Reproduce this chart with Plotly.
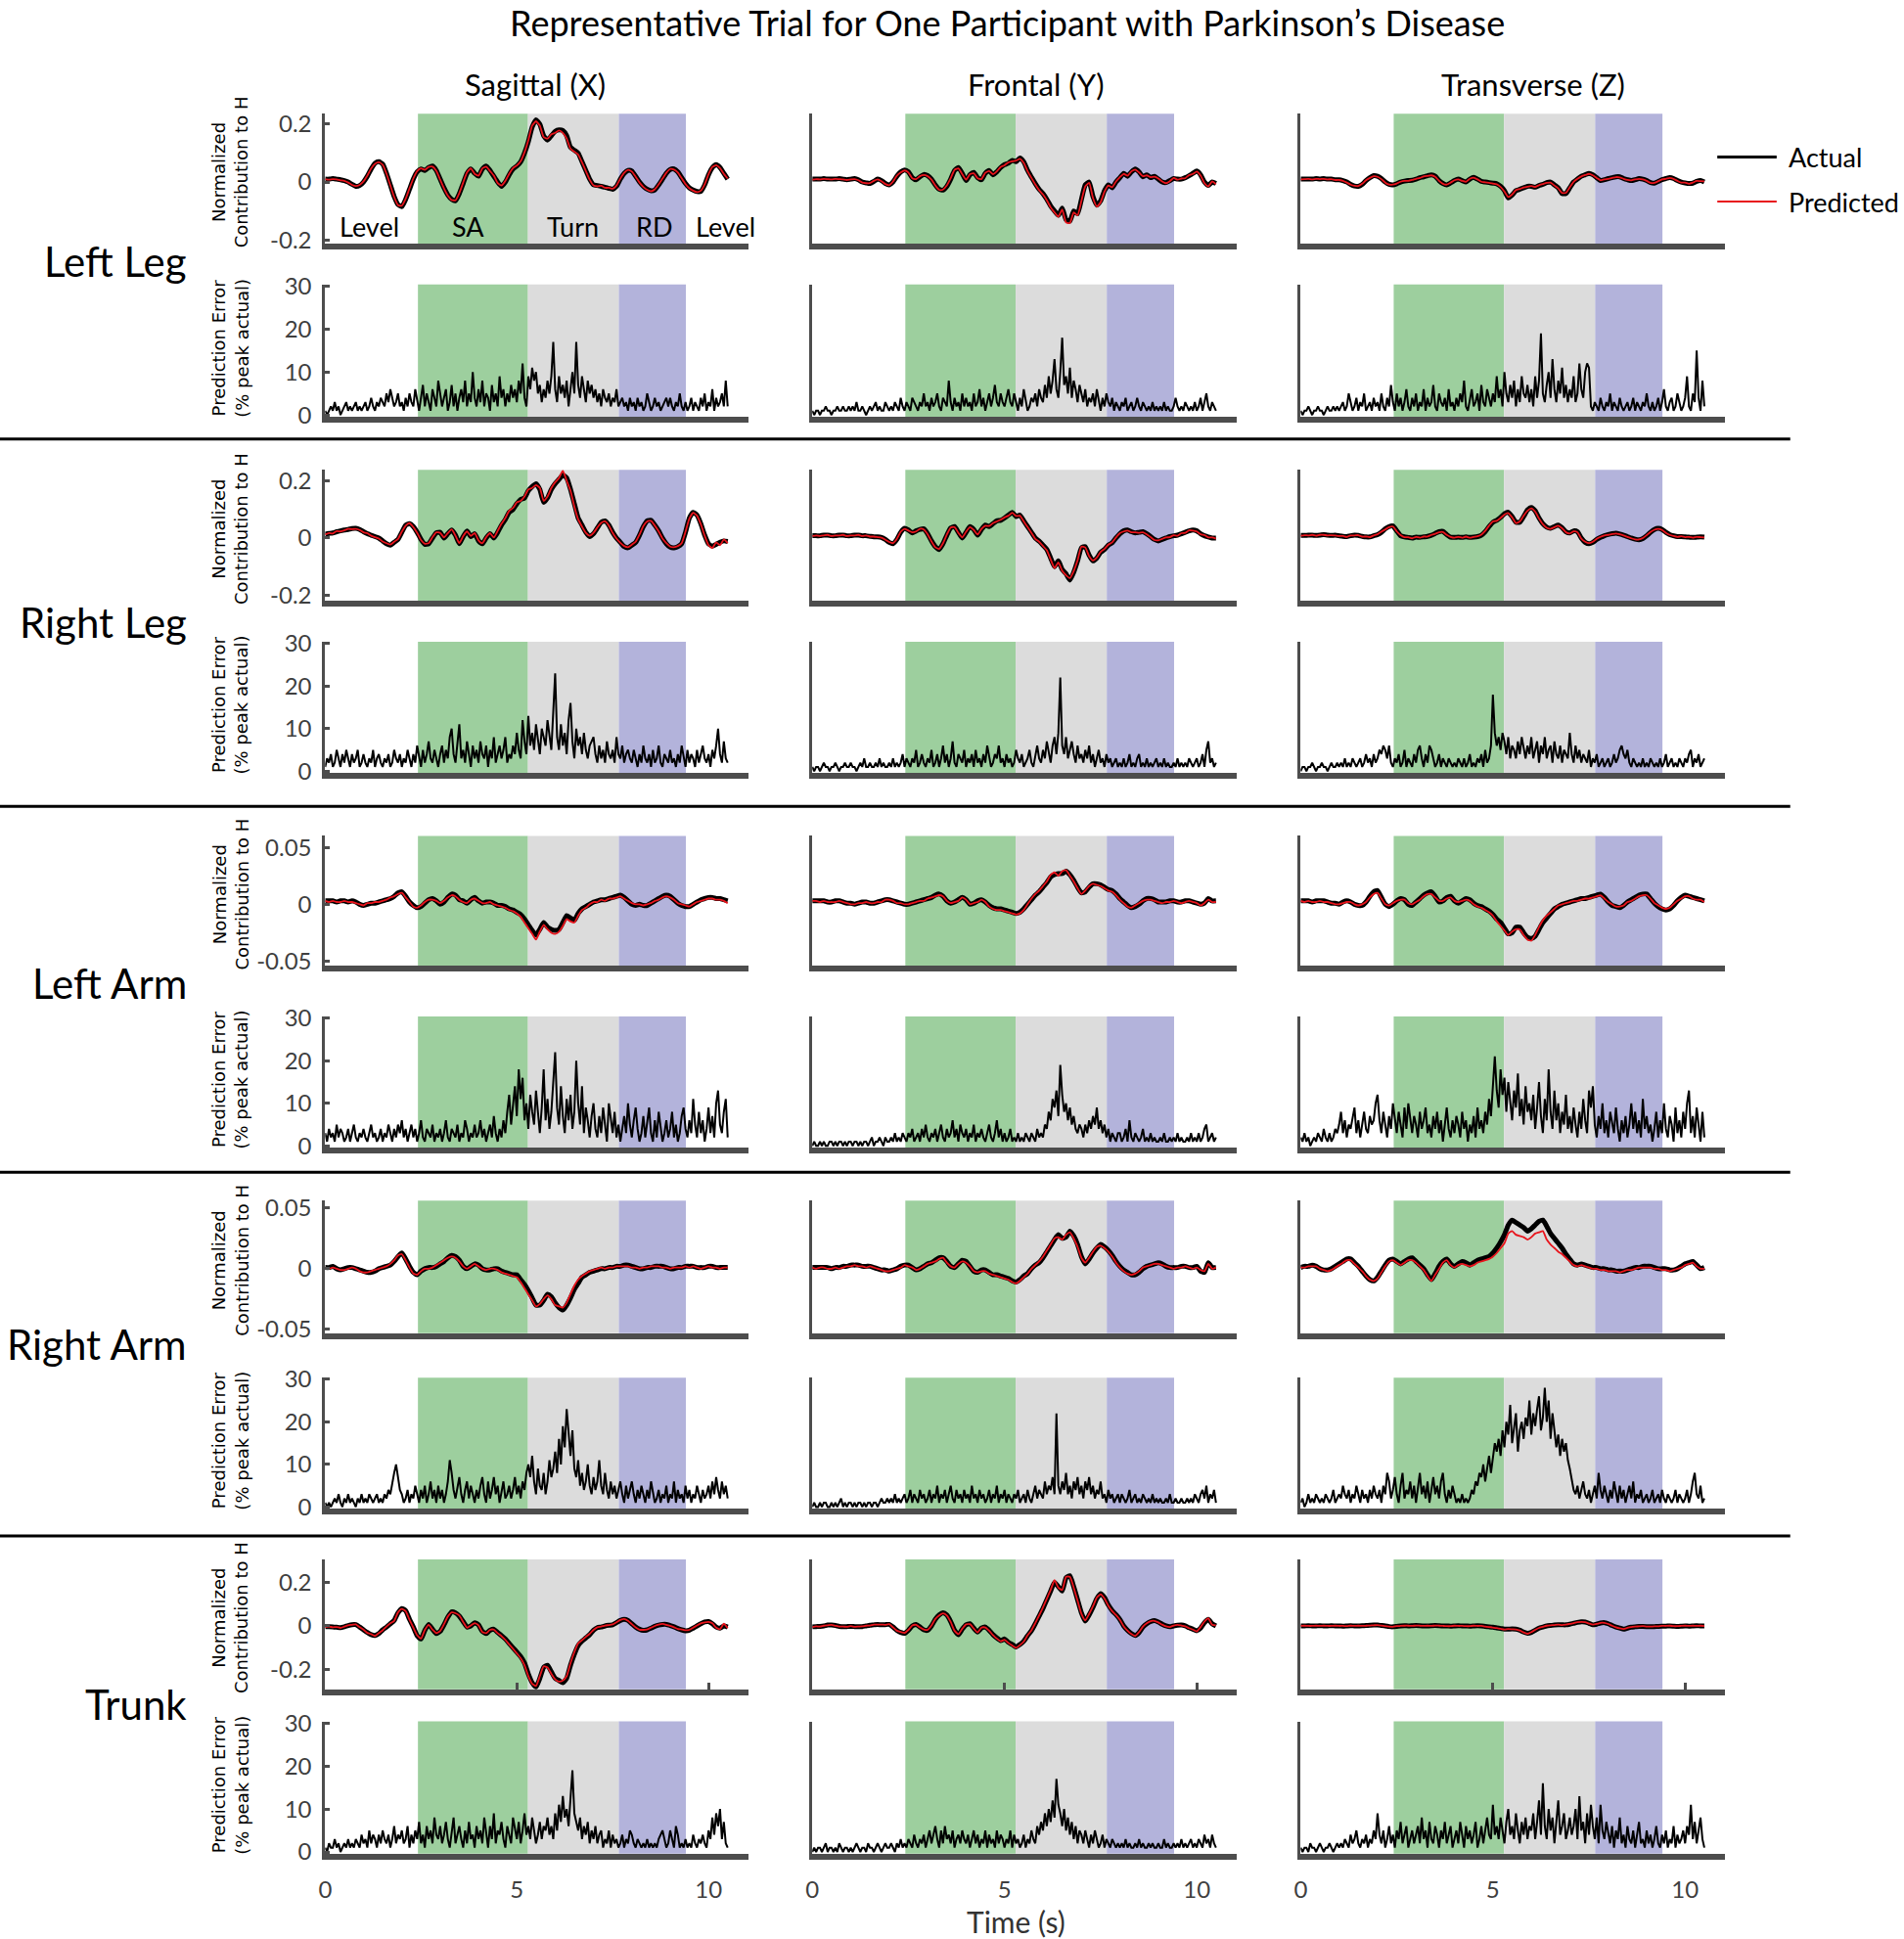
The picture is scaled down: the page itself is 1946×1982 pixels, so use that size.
import plotly.graph_objects as go

# ------------------------------------------------------------------ data
t_curve = [round(i * 0.1, 1) for i in range(106)]      # sample times (s) of H-contribution curves
t_err = [round(i * 0.05, 2) for i in range(211)]       # sample times (s) of prediction-error curves

rows = ["Left Leg", "Right Leg", "Left Arm", "Right Arm", "Trunk"]
planes = ["Sagittal (X)", "Frontal (Y)", "Transverse (Z)"]
phase_names = ["Level", "SA", "Turn", "RD", "Level"]
phase_label_t = [1.16, 3.74, 6.45, 8.58, 10.45]
phase_start = [2.42, 5.29, 7.66]
phase_end = [5.29, 7.66, 9.41]
phase_colors = ["#9dcf9e", "#dcdcdc", "#b3b3db"]
x_ticks = [0, 5, 10]
err_ticks = [0, 10, 20, 30]

# ---- Left Leg
act_ll_x = [0.01,0.01,0.012,0.01,0.008,0.005,0.0,-0.008,-0.015,-0.012,
 0.0,0.02,0.045,0.065,0.07,0.062,0.03,-0.01,-0.05,-0.078,
 -0.085,-0.06,-0.025,0.01,0.035,0.045,0.04,0.05,0.055,0.04,
 0.01,-0.02,-0.045,-0.06,-0.065,-0.04,-0.005,0.03,0.045,0.03,
 0.02,0.045,0.055,0.04,0.02,0.0,-0.015,0.0,0.025,0.045,
 0.055,0.07,0.1,0.14,0.19,0.215,0.2,0.16,0.145,0.16,
 0.175,0.18,0.178,0.16,0.12,0.11,0.1,0.07,0.04,0.01,
 -0.01,-0.012,-0.015,-0.018,-0.022,-0.025,-0.015,0.01,0.03,0.04,
 0.038,0.02,0.0,-0.015,-0.025,-0.03,-0.027,-0.01,0.01,0.03,
 0.043,0.045,0.035,0.015,-0.005,-0.02,-0.028,-0.033,-0.032,-0.01,
 0.025,0.05,0.06,0.05,0.03,0.01]
pred_ll_x = [0.01,0.008,0.01,0.009,0.006,0.004,-0.002,-0.01,-0.014,-0.01,
 0.002,0.022,0.047,0.063,0.068,0.06,0.028,-0.012,-0.052,-0.08,
 -0.082,-0.058,-0.022,0.012,0.038,0.047,0.042,0.052,0.053,0.038,
 0.008,-0.022,-0.047,-0.062,-0.063,-0.038,-0.002,0.033,0.047,0.028,
 0.022,0.047,0.053,0.038,0.022,-0.004,-0.012,0.004,0.028,0.048,
 0.057,0.072,0.103,0.145,0.195,0.21,0.195,0.155,0.15,0.165,
 0.17,0.178,0.17,0.15,0.115,0.105,0.095,0.068,0.038,0.008,
 -0.012,-0.015,-0.013,-0.02,-0.02,-0.023,-0.012,0.012,0.032,0.042,
 0.036,0.018,-0.002,-0.017,-0.027,-0.032,-0.025,-0.008,0.012,0.032,
 0.045,0.043,0.033,0.013,-0.007,-0.022,-0.03,-0.035,-0.03,-0.008,
 0.027,0.052,0.058,0.048,0.028,0.012]
act_ll_y = [0.01,0.01,0.01,0.012,0.01,0.01,0.01,0.012,0.01,0.008,
 0.01,0.012,0.008,0.0,-0.003,-0.005,0.002,0.01,0.005,-0.005,
 -0.01,0.0,0.02,0.035,0.042,0.035,0.015,0.008,0.018,0.026,
 0.022,0.01,-0.01,-0.025,-0.028,-0.015,0.01,0.04,0.05,0.03,
 0.005,0.025,0.033,0.015,0.008,0.03,0.04,0.025,0.035,0.05,
 0.06,0.065,0.075,0.07,0.083,0.07,0.04,0.017,-0.005,-0.025,
 -0.04,-0.06,-0.083,-0.1,-0.115,-0.09,-0.13,-0.135,-0.1,-0.11,
 -0.06,-0.01,0.0,-0.05,-0.08,-0.065,-0.03,-0.01,-0.02,0.0,
 0.015,0.03,0.02,0.035,0.045,0.035,0.018,0.025,0.015,0.02,
 0.01,0.0,-0.002,0.005,0.012,0.01,0.01,0.015,0.022,0.03,
 0.038,0.025,0.0,-0.012,0.0,-0.005]
pred_ll_y = [0.008,0.01,0.009,0.011,0.01,0.009,0.011,0.01,0.009,0.007,
 0.009,0.01,0.006,-0.002,-0.004,-0.004,0.004,0.009,0.003,-0.007,
 -0.011,0.002,0.022,0.033,0.04,0.033,0.013,0.01,0.02,0.024,
 0.02,0.008,-0.012,-0.027,-0.026,-0.012,0.013,0.042,0.047,0.027,
 0.008,0.027,0.03,0.013,0.01,0.032,0.038,0.027,0.037,0.052,
 0.058,0.068,0.072,0.074,0.08,0.066,0.037,0.014,-0.008,-0.028,
 -0.043,-0.063,-0.088,-0.105,-0.12,-0.095,-0.14,-0.142,-0.105,-0.115,
 -0.065,-0.015,-0.003,-0.055,-0.085,-0.07,-0.033,-0.012,-0.018,0.002,
 0.017,0.028,0.022,0.037,0.043,0.033,0.02,0.023,0.017,0.018,
 0.012,0.002,-0.004,0.003,0.014,0.008,0.012,0.013,0.024,0.028,
 0.036,0.022,-0.004,-0.015,0.002,-0.008]
act_ll_z = [0.01,0.01,0.01,0.01,0.012,0.01,0.012,0.01,0.01,0.008,
 0.008,0.005,0.0,-0.008,-0.014,-0.015,-0.008,0.005,0.015,0.022,
 0.02,0.012,0.0,-0.008,-0.01,-0.006,0.0,0.003,0.005,0.006,
 0.01,0.015,0.018,0.022,0.025,0.02,0.005,-0.005,-0.01,-0.003,
 0.005,0.01,0.005,0.0,0.01,0.016,0.01,0.002,0.0,-0.002,
 -0.004,-0.006,-0.015,-0.03,-0.055,-0.045,-0.03,-0.025,-0.02,-0.015,
 -0.015,-0.018,-0.012,-0.008,-0.002,0.0,-0.01,-0.02,-0.04,-0.04,
 -0.02,0.0,0.01,0.02,0.025,0.03,0.025,0.015,0.005,0.008,
 0.012,0.015,0.018,0.018,0.012,0.008,0.005,0.008,0.012,0.01,
 0.005,-0.002,-0.004,0.002,0.008,0.012,0.015,0.012,0.005,0.0,
 -0.003,-0.005,-0.004,0.002,0.005,0.0]
pred_ll_z = [0.009,0.01,0.011,0.009,0.011,0.01,0.011,0.009,0.01,0.007,
 0.007,0.004,-0.002,-0.009,-0.013,-0.014,-0.006,0.006,0.014,0.02,
 0.018,0.01,-0.002,-0.009,-0.009,-0.005,0.001,0.004,0.004,0.007,
 0.011,0.014,0.019,0.021,0.023,0.018,0.004,-0.006,-0.009,-0.002,
 0.006,0.009,0.004,0.001,0.011,0.015,0.009,0.001,-0.001,-0.003,
 -0.005,-0.008,-0.017,-0.033,-0.052,-0.043,-0.028,-0.024,-0.019,-0.016,
 -0.014,-0.017,-0.011,-0.007,-0.003,-0.002,-0.012,-0.022,-0.038,-0.037,
 -0.018,0.001,0.011,0.019,0.024,0.028,0.023,0.014,0.006,0.009,
 0.011,0.014,0.017,0.016,0.011,0.007,0.006,0.009,0.011,0.009,
 0.004,-0.003,-0.003,0.003,0.009,0.011,0.014,0.011,0.004,-0.002,
 -0.002,-0.006,-0.002,0.004,0.003,0.002]

# ---- Right Leg
act_rl_x = [0.014,0.016,0.018,0.022,0.025,0.028,0.03,0.033,0.034,0.03,
 0.022,0.015,0.01,0.005,0.0,-0.01,-0.02,-0.025,-0.015,-0.005,
 0.02,0.045,0.05,0.04,0.02,-0.005,-0.022,-0.02,0.0,0.018,
 0.02,0.0,0.015,0.028,0.01,-0.02,0.005,0.025,0.005,0.015,
 -0.01,-0.02,0.0,0.015,0.0,0.02,0.045,0.065,0.09,0.1,
 0.12,0.135,0.14,0.165,0.18,0.19,0.17,0.125,0.14,0.17,
 0.19,0.205,0.22,0.21,0.17,0.12,0.07,0.045,0.02,0.005,
 0.015,0.035,0.055,0.06,0.045,0.02,0.0,-0.015,-0.03,-0.034,
 -0.025,-0.015,0.01,0.04,0.06,0.062,0.045,0.025,0.0,-0.02,
 -0.032,-0.034,-0.03,-0.02,0.02,0.07,0.09,0.08,0.05,0.01,
 -0.02,-0.028,-0.022,-0.015,-0.01,-0.012]
pred_rl_x = [0.012,0.017,0.016,0.024,0.023,0.027,0.032,0.031,0.032,0.028,
 0.02,0.017,0.008,0.003,-0.002,-0.012,-0.018,-0.023,-0.013,-0.003,
 0.022,0.043,0.052,0.038,0.018,-0.007,-0.02,-0.018,0.003,0.02,
 0.018,0.002,0.017,0.03,0.008,-0.018,0.007,0.023,0.007,0.017,
 -0.008,-0.018,0.003,0.017,0.002,0.025,0.05,0.07,0.095,0.105,
 0.125,0.13,0.145,0.17,0.175,0.185,0.175,0.13,0.145,0.175,
 0.195,0.21,0.235,0.2,0.165,0.11,0.065,0.04,0.018,0.008,
 0.018,0.037,0.053,0.058,0.043,0.018,-0.002,-0.017,-0.028,-0.032,
 -0.023,-0.013,0.012,0.042,0.058,0.06,0.043,0.023,-0.002,-0.018,
 -0.03,-0.032,-0.028,-0.018,0.022,0.068,0.088,0.078,0.048,0.008,
 -0.025,-0.035,-0.015,-0.025,-0.005,-0.018]
act_rl_y = [0.008,0.008,0.008,0.01,0.01,0.008,0.008,0.01,0.01,0.008,
 0.008,0.01,0.01,0.008,0.008,0.006,0.004,0.004,0.002,-0.005,
 -0.015,-0.02,-0.005,0.02,0.034,0.028,0.018,0.025,0.03,0.032,
 0.015,-0.01,-0.03,-0.04,-0.02,0.01,0.035,0.04,0.02,0.0,
 0.02,0.04,0.03,0.01,0.03,0.045,0.04,0.05,0.06,0.062,
 0.07,0.08,0.09,0.075,0.08,0.06,0.04,0.02,0.0,-0.011,
 -0.025,-0.04,-0.07,-0.1,-0.08,-0.11,-0.125,-0.147,-0.12,-0.08,
 -0.034,-0.03,-0.06,-0.08,-0.07,-0.05,-0.04,-0.025,-0.017,0.0,
 0.015,0.025,0.028,0.022,0.018,0.02,0.022,0.015,0.005,-0.005,
 -0.01,-0.005,0.0,0.005,0.008,0.01,0.015,0.02,0.025,0.028,
 0.025,0.015,0.008,0.004,0.0,0.0]
pred_rl_y = [0.007,0.009,0.007,0.009,0.011,0.007,0.009,0.009,0.011,0.007,
 0.009,0.009,0.011,0.007,0.009,0.005,0.005,0.003,0.001,-0.006,
 -0.014,-0.018,-0.003,0.022,0.032,0.026,0.02,0.023,0.032,0.03,
 0.013,-0.012,-0.032,-0.038,-0.018,0.012,0.037,0.038,0.018,0.002,
 0.022,0.038,0.028,0.012,0.032,0.043,0.042,0.052,0.058,0.064,
 0.072,0.078,0.088,0.077,0.078,0.058,0.038,0.018,-0.003,-0.013,
 -0.028,-0.043,-0.075,-0.105,-0.085,-0.115,-0.13,-0.14,-0.115,-0.078,
 -0.03,-0.033,-0.063,-0.078,-0.068,-0.048,-0.038,-0.023,-0.015,0.002,
 0.017,0.023,0.026,0.02,0.02,0.018,0.02,0.013,0.003,-0.007,
 -0.008,-0.003,0.002,0.003,0.01,0.008,0.017,0.018,0.027,0.026,
 0.023,0.013,0.01,0.002,0.002,-0.002]
act_rl_z = [0.009,0.009,0.01,0.01,0.009,0.01,0.012,0.01,0.009,0.01,
 0.008,0.006,0.005,0.008,0.01,0.009,0.006,0.004,0.004,0.008,
 0.012,0.02,0.032,0.04,0.042,0.025,0.008,0.004,0.002,0.0,
 0.003,0.002,0.004,0.006,0.01,0.016,0.022,0.023,0.012,0.003,
 0.002,0.003,0.002,0.004,0.002,0.003,0.005,0.01,0.022,0.04,
 0.055,0.062,0.072,0.085,0.09,0.075,0.055,0.055,0.075,0.098,
 0.107,0.095,0.07,0.05,0.038,0.034,0.04,0.045,0.036,0.022,
 0.018,0.025,0.022,0.0,-0.015,-0.02,-0.015,-0.005,0.002,0.008,
 0.012,0.015,0.017,0.014,0.01,0.005,0.0,-0.004,-0.006,-0.002,
 0.008,0.02,0.03,0.034,0.03,0.02,0.012,0.008,0.005,0.005,
 0.004,0.003,0.002,0.003,0.004,0.003]
pred_rl_z = [0.008,0.01,0.009,0.011,0.008,0.011,0.011,0.009,0.01,0.009,
 0.007,0.007,0.004,0.009,0.009,0.01,0.005,0.005,0.003,0.009,
 0.013,0.022,0.03,0.038,0.04,0.023,0.01,0.003,0.003,-0.001,
 0.004,0.001,0.005,0.005,0.011,0.015,0.02,0.021,0.011,0.004,
 0.001,0.004,0.001,0.005,0.001,0.004,0.006,0.012,0.025,0.043,
 0.058,0.06,0.07,0.082,0.087,0.072,0.052,0.058,0.078,0.095,
 0.104,0.092,0.068,0.048,0.036,0.032,0.038,0.043,0.034,0.02,
 0.016,0.023,0.02,-0.002,-0.013,-0.018,-0.013,-0.003,0.004,0.009,
 0.011,0.014,0.016,0.013,0.009,0.004,-0.001,-0.005,-0.005,0.0,
 0.01,0.021,0.029,0.032,0.028,0.018,0.011,0.007,0.004,0.006,
 0.003,0.004,0.001,0.004,0.003,0.002]

# ---- Left Arm
act_la_x = [0.003,0.003,0.003,0.002,0.003,0.003,0.002,0.003,0.002,0.0,
 -0.001,0.0,0.001,0.001,0.002,0.003,0.004,0.005,0.007,0.01,
 0.011,0.007,0.002,-0.001,-0.003,-0.002,0.001,0.004,0.005,0.003,
 0.0,0.002,0.006,0.009,0.008,0.004,0.003,0.001,0.004,0.006,
 0.003,0.001,0.002,0.002,0.001,-0.001,-0.001,-0.002,-0.004,-0.005,
 -0.007,-0.009,-0.013,-0.018,-0.023,-0.027,-0.022,-0.016,-0.02,-0.022,
 -0.023,-0.022,-0.016,-0.01,-0.012,-0.014,-0.008,-0.004,-0.002,0.0,
 0.002,0.003,0.004,0.004,0.005,0.006,0.007,0.008,0.006,0.003,
 0.0,-0.001,0.0,-0.001,-0.001,0.001,0.003,0.005,0.007,0.008,
 0.007,0.004,0.001,-0.001,-0.002,-0.002,0.0,0.002,0.004,0.005,
 0.006,0.006,0.005,0.005,0.004,0.003]
pred_la_x = [0.003,0.002,0.003,0.002,0.002,0.003,0.002,0.002,0.001,0.0,
 -0.001,0.001,0.001,0.002,0.002,0.003,0.004,0.006,0.007,0.009,
 0.01,0.006,0.002,-0.002,-0.003,-0.001,0.002,0.004,0.004,0.003,
 0.001,0.003,0.006,0.008,0.007,0.004,0.002,0.001,0.004,0.005,
 0.003,0.001,0.001,0.002,0.0,-0.001,-0.002,-0.003,-0.005,-0.006,
 -0.008,-0.011,-0.016,-0.021,-0.026,-0.031,-0.024,-0.018,-0.022,-0.025,
 -0.026,-0.024,-0.019,-0.013,-0.015,-0.016,-0.01,-0.005,-0.003,0.0,
 0.002,0.002,0.004,0.003,0.005,0.005,0.006,0.007,0.005,0.003,
 0.001,0.0,0.0,-0.001,0.0,0.001,0.003,0.004,0.006,0.007,
 0.006,0.004,0.001,0.0,-0.001,-0.002,0.0,0.002,0.003,0.004,
 0.005,0.005,0.004,0.004,0.003,0.001]
act_la_y = [0.003,0.003,0.003,0.003,0.002,0.002,0.003,0.003,0.002,0.001,
 0.001,0.0,0.001,0.002,0.002,0.001,0.001,0.002,0.003,0.004,
 0.004,0.003,0.002,0.001,0.0,0.0,0.001,0.002,0.003,0.004,
 0.005,0.006,0.008,0.009,0.007,0.003,0.001,0.002,0.004,0.006,
 0.004,0.0,0.001,0.003,0.004,0.002,-0.001,-0.003,-0.004,-0.004,
 -0.005,-0.006,-0.007,-0.008,-0.007,-0.004,0.0,0.004,0.008,0.011,
 0.015,0.019,0.024,0.026,0.027,0.027,0.029,0.026,0.021,0.015,
 0.01,0.011,0.015,0.018,0.018,0.017,0.015,0.013,0.012,0.009,
 0.005,0.002,-0.001,-0.003,-0.002,0.0,0.003,0.005,0.005,0.004,
 0.002,0.002,0.002,0.003,0.003,0.002,0.002,0.003,0.003,0.002,
 0.001,0.0,0.001,0.005,0.003,0.003]
pred_la_y = [0.003,0.003,0.002,0.003,0.002,0.002,0.002,0.003,0.002,0.001,
 0.0,0.0,0.001,0.001,0.002,0.001,0.001,0.002,0.002,0.004,
 0.004,0.003,0.001,0.001,0.0,0.0,0.001,0.002,0.003,0.003,
 0.005,0.006,0.007,0.008,0.007,0.003,0.001,0.002,0.003,0.006,
 0.004,0.0,0.001,0.002,0.004,0.002,-0.002,-0.004,-0.005,-0.005,
 -0.006,-0.007,-0.008,-0.009,-0.008,-0.005,0.0,0.005,0.009,0.012,
 0.016,0.02,0.026,0.028,0.025,0.029,0.03,0.025,0.02,0.014,
 0.009,0.012,0.016,0.018,0.017,0.016,0.014,0.012,0.011,0.008,
 0.004,0.001,-0.002,-0.003,-0.001,0.001,0.003,0.004,0.004,0.003,
 0.002,0.001,0.002,0.002,0.003,0.002,0.001,0.002,0.003,0.002,
 0.001,-0.001,0.001,0.004,0.002,0.002]
act_la_z = [0.003,0.003,0.003,0.002,0.003,0.003,0.003,0.002,0.001,0.001,
 0.0,0.002,0.003,0.002,0.0,-0.001,-0.001,0.002,0.007,0.011,
 0.012,0.006,0.0,-0.002,0.0,0.003,0.005,0.004,0.0,-0.001,
 0.002,0.005,0.008,0.01,0.011,0.007,0.002,0.003,0.006,0.007,
 0.003,0.001,0.003,0.005,0.004,0.001,-0.001,-0.002,-0.004,-0.006,
 -0.009,-0.013,-0.016,-0.021,-0.026,-0.025,-0.02,-0.02,-0.025,-0.029,
 -0.03,-0.028,-0.022,-0.016,-0.012,-0.008,-0.004,-0.002,0.0,0.001,
 0.002,0.003,0.004,0.005,0.005,0.006,0.007,0.008,0.009,0.006,
 0.002,-0.001,-0.002,-0.003,-0.001,0.002,0.004,0.006,0.008,0.009,
 0.009,0.005,0.001,-0.002,-0.004,-0.005,-0.004,-0.001,0.003,0.006,
 0.008,0.007,0.006,0.005,0.004,0.003]
pred_la_z = [0.003,0.002,0.003,0.002,0.002,0.003,0.002,0.002,0.001,0.0,
 0.0,0.001,0.002,0.002,0.0,-0.001,0.0,0.002,0.006,0.009,
 0.01,0.005,0.0,-0.001,0.001,0.003,0.004,0.004,0.001,0.0,
 0.002,0.004,0.007,0.009,0.009,0.006,0.003,0.003,0.005,0.006,
 0.003,0.002,0.003,0.004,0.003,0.0,-0.002,-0.003,-0.005,-0.007,
 -0.01,-0.015,-0.019,-0.023,-0.027,-0.024,-0.022,-0.022,-0.027,-0.031,
 -0.032,-0.027,-0.02,-0.014,-0.01,-0.007,-0.004,-0.001,0.0,0.001,
 0.002,0.003,0.003,0.004,0.005,0.005,0.006,0.007,0.008,0.005,
 0.002,0.0,-0.002,-0.002,-0.001,0.002,0.003,0.005,0.007,0.008,
 0.008,0.005,0.001,-0.001,-0.003,-0.004,-0.003,0.0,0.003,0.005,
 0.007,0.007,0.005,0.004,0.004,0.002]

# ---- Right Arm
act_ra_x = [0.001,0.001,0.002,0.0,-0.001,0.0,0.001,0.001,0.0,-0.001,
 -0.002,-0.003,-0.003,-0.002,0.0,0.001,0.002,0.003,0.006,0.01,
 0.013,0.008,0.002,-0.003,-0.005,-0.002,0.0,0.001,0.001,0.002,
 0.004,0.006,0.009,0.011,0.01,0.007,0.002,0.0,0.002,0.004,
 0.003,0.0,-0.001,-0.001,0.0,0.0,-0.002,-0.003,-0.004,-0.005,
 -0.005,-0.009,-0.013,-0.018,-0.024,-0.03,-0.03,-0.026,-0.021,-0.023,
 -0.028,-0.032,-0.034,-0.03,-0.024,-0.017,-0.012,-0.007,-0.005,-0.003,
 -0.002,-0.001,0.0,0.0,0.001,0.001,0.002,0.002,0.003,0.003,
 0.002,0.001,0.0,0.0,0.001,0.001,0.002,0.002,0.002,0.001,
 0.0,0.0,0.001,0.001,0.002,0.002,0.002,0.001,0.001,0.001,
 0.002,0.002,0.001,0.001,0.001,0.001]
pred_ra_x = [0.001,0.0,0.001,0.0,-0.001,-0.001,0.0,0.001,0.0,-0.002,
 -0.003,-0.003,-0.002,-0.001,0.0,0.001,0.002,0.004,0.007,0.011,
 0.012,0.007,0.001,-0.004,-0.005,-0.002,0.0,0.0,0.001,0.003,
 0.005,0.007,0.009,0.01,0.009,0.006,0.002,0.0,0.002,0.004,
 0.002,0.0,-0.001,0.0,0.0,-0.001,-0.003,-0.004,-0.005,-0.006,
 -0.007,-0.011,-0.016,-0.021,-0.026,-0.031,-0.029,-0.025,-0.022,-0.025,
 -0.03,-0.031,-0.032,-0.028,-0.021,-0.014,-0.009,-0.006,-0.004,-0.002,
 -0.001,0.0,0.001,0.0,0.001,0.001,0.002,0.002,0.002,0.002,
 0.001,0.001,0.0,0.001,0.001,0.002,0.002,0.002,0.001,0.001,
 0.0,0.001,0.001,0.001,0.002,0.001,0.002,0.001,0.0,0.001,
 0.002,0.001,0.001,0.0,0.001,0.001]
act_ra_y = [0.001,0.001,0.001,0.001,0.001,0.0,0.001,0.001,0.002,0.002,
 0.003,0.003,0.003,0.002,0.002,0.002,0.001,0.0,-0.001,-0.001,
 -0.002,-0.001,0.0,0.002,0.003,0.003,0.001,-0.001,0.0,0.002,
 0.004,0.005,0.007,0.009,0.009,0.006,0.002,0.001,0.004,0.007,
 0.006,0.002,-0.002,-0.003,-0.001,-0.001,-0.003,-0.005,-0.005,-0.006,
 -0.007,-0.008,-0.01,-0.011,-0.009,-0.006,-0.004,0.0,0.003,0.005,
 0.009,0.014,0.019,0.024,0.028,0.025,0.026,0.031,0.027,0.02,
 0.01,0.004,0.008,0.013,0.017,0.02,0.018,0.015,0.011,0.006,
 0.002,-0.001,-0.003,-0.005,-0.005,-0.003,0.0,0.002,0.003,0.004,
 0.005,0.004,0.002,0.001,0.001,0.001,0.002,0.002,0.001,0.001,
 0.002,-0.002,-0.003,0.005,0.001,0.001]
pred_ra_y = [0.001,0.0,0.001,0.001,0.0,0.0,0.001,0.0,0.001,0.002,
 0.002,0.003,0.002,0.002,0.001,0.002,0.001,0.0,-0.001,-0.002,
 -0.002,-0.001,0.0,0.001,0.003,0.002,0.001,-0.001,0.0,0.002,
 0.004,0.005,0.006,0.008,0.009,0.005,0.002,0.001,0.004,0.006,
 0.005,0.002,-0.002,-0.003,-0.002,-0.002,-0.004,-0.005,-0.006,-0.007,
 -0.008,-0.009,-0.011,-0.012,-0.01,-0.007,-0.004,0.0,0.003,0.006,
 0.01,0.015,0.02,0.025,0.026,0.024,0.028,0.03,0.025,0.018,
 0.009,0.005,0.009,0.014,0.018,0.019,0.017,0.014,0.01,0.005,
 0.001,-0.002,-0.004,-0.005,-0.004,-0.002,0.001,0.002,0.003,0.004,
 0.004,0.003,0.002,0.001,0.0,0.001,0.001,0.002,0.001,0.0,
 0.001,-0.001,-0.002,0.004,0.0,0.001]
act_ra_z = [0.001,0.002,0.002,0.003,0.002,0.0,-0.001,-0.001,0.0,0.002,
 0.004,0.006,0.008,0.008,0.005,0.002,-0.002,-0.006,-0.009,-0.01,
 -0.007,-0.002,0.003,0.007,0.008,0.006,0.004,0.006,0.008,0.009,
 0.006,0.003,0.0,-0.005,-0.009,-0.004,0.002,0.006,0.008,0.004,
 0.002,0.004,0.006,0.005,0.003,0.005,0.007,0.008,0.009,0.01,
 0.013,0.017,0.022,0.028,0.036,0.04,0.038,0.036,0.034,0.031,
 0.033,0.036,0.039,0.04,0.035,0.029,0.025,0.021,0.017,0.012,
 0.008,0.004,0.003,0.004,0.003,0.002,0.001,0.001,0.0,0.0,
 -0.001,-0.001,-0.002,-0.002,-0.002,-0.001,0.0,0.001,0.001,0.002,
 0.002,0.002,0.001,0.0,0.0,0.0,-0.001,-0.001,0.0,0.002,
 0.004,0.005,0.006,0.003,0.0,0.001]
pred_ra_z = [0.001,0.001,0.002,0.002,0.002,0.0,-0.001,-0.002,-0.001,0.001,
 0.003,0.005,0.007,0.007,0.004,0.001,-0.002,-0.006,-0.009,-0.01,
 -0.008,-0.003,0.002,0.006,0.007,0.005,0.003,0.005,0.007,0.007,
 0.005,0.002,-0.001,-0.006,-0.01,-0.005,0.0,0.005,0.007,0.003,
 0.001,0.003,0.004,0.003,0.002,0.003,0.005,0.006,0.007,0.008,
 0.01,0.013,0.017,0.021,0.029,0.031,0.028,0.027,0.026,0.024,
 0.026,0.029,0.03,0.031,0.024,0.02,0.017,0.014,0.012,0.009,
 0.006,0.003,0.002,0.003,0.002,0.001,0.0,0.0,-0.001,-0.001,
 -0.002,-0.002,-0.002,-0.003,-0.002,-0.001,-0.001,0.0,0.001,0.001,
 0.001,0.001,0.0,0.0,-0.001,-0.001,-0.002,-0.001,0.0,0.001,
 0.003,0.004,0.005,0.002,0.0,0.0]

# ---- Trunk
act_tr_x = [-0.004,-0.004,-0.005,-0.006,-0.008,-0.004,0.002,0.006,0.006,-0.005,
 -0.018,-0.03,-0.04,-0.044,-0.035,-0.018,-0.005,0.01,0.025,0.06,
 0.08,0.07,0.03,-0.005,-0.045,-0.06,-0.02,0.007,-0.015,-0.035,
 -0.025,0.005,0.04,0.065,0.06,0.045,0.02,-0.005,0.0,0.015,
 0.005,-0.025,-0.035,-0.02,-0.015,-0.03,-0.044,-0.06,-0.08,-0.1,
 -0.12,-0.14,-0.17,-0.22,-0.26,-0.28,-0.24,-0.19,-0.18,-0.21,
 -0.24,-0.25,-0.26,-0.24,-0.18,-0.13,-0.09,-0.07,-0.055,-0.04,
 -0.02,-0.008,-0.005,0.0,0.003,0.005,0.015,0.025,0.03,0.025,
 0.01,-0.005,-0.015,-0.02,-0.018,-0.01,-0.002,0.004,0.007,0.007,
 0.002,-0.004,-0.012,-0.018,-0.022,-0.02,-0.01,0.0,0.01,0.018,
 0.02,0.01,-0.005,-0.01,0.0,-0.005]
pred_tr_x = [-0.005,-0.003,-0.006,-0.005,-0.009,-0.003,0.003,0.005,0.007,-0.006,
 -0.017,-0.032,-0.038,-0.046,-0.033,-0.02,-0.003,0.012,0.023,0.062,
 0.078,0.068,0.028,-0.008,-0.043,-0.058,-0.018,0.005,-0.017,-0.033,
 -0.023,0.008,0.043,0.062,0.058,0.047,0.018,-0.008,0.002,0.013,
 0.003,-0.028,-0.033,-0.018,-0.017,-0.033,-0.047,-0.064,-0.085,-0.105,
 -0.126,-0.148,-0.18,-0.23,-0.265,-0.275,-0.23,-0.185,-0.19,-0.22,
 -0.245,-0.255,-0.25,-0.23,-0.17,-0.12,-0.08,-0.065,-0.05,-0.036,
 -0.018,-0.006,-0.003,0.002,0.004,0.007,0.017,0.027,0.032,0.023,
 0.008,-0.007,-0.017,-0.018,-0.016,-0.008,0.0,0.006,0.009,0.005,
 0.0,-0.006,-0.014,-0.016,-0.02,-0.018,-0.008,0.002,0.012,0.016,
 0.018,0.012,-0.008,-0.015,0.01,-0.01]
act_tr_y = [-0.004,-0.003,-0.002,0.0,0.004,0.004,0.002,-0.002,-0.004,-0.003,
 -0.002,-0.003,-0.004,-0.003,0.0,0.003,0.005,0.007,0.005,0.006,
 0.007,-0.005,-0.02,-0.03,-0.034,-0.02,0.0,0.007,-0.005,-0.018,
 -0.02,0.0,0.03,0.05,0.06,0.05,0.02,-0.02,-0.04,-0.015,
 0.005,0.01,-0.01,-0.028,-0.01,-0.005,-0.02,-0.04,-0.055,-0.067,
 -0.06,-0.075,-0.085,-0.096,-0.085,-0.07,-0.045,-0.022,0.01,0.045,
 0.08,0.12,0.16,0.2,0.18,0.16,0.22,0.23,0.18,0.12,
 0.06,0.022,0.05,0.085,0.125,0.148,0.13,0.096,0.07,0.052,
 0.03,0.0,-0.02,-0.035,-0.044,-0.03,-0.005,0.01,0.02,0.025,
 0.018,0.008,0.0,-0.004,0.0,0.003,0.004,0.0,-0.008,-0.015,
 -0.022,-0.01,0.015,0.03,0.01,0.0]
pred_tr_y = [-0.005,-0.002,-0.003,0.001,0.003,0.005,0.001,-0.003,-0.003,-0.004,
 -0.001,-0.004,-0.003,-0.002,0.001,0.002,0.006,0.006,0.006,0.005,
 0.008,-0.007,-0.022,-0.028,-0.032,-0.018,0.002,0.005,-0.007,-0.016,
 -0.018,0.002,0.032,0.048,0.058,0.048,0.018,-0.022,-0.038,-0.013,
 0.007,0.008,-0.012,-0.03,-0.008,-0.007,-0.022,-0.042,-0.058,-0.07,
 -0.063,-0.078,-0.09,-0.1,-0.088,-0.072,-0.043,-0.02,0.013,0.048,
 0.085,0.125,0.165,0.21,0.175,0.165,0.225,0.225,0.175,0.115,
 0.055,0.025,0.055,0.09,0.13,0.145,0.125,0.092,0.068,0.05,
 0.028,-0.002,-0.022,-0.037,-0.046,-0.028,-0.003,0.012,0.022,0.023,
 0.016,0.006,-0.002,-0.005,0.002,0.005,0.002,-0.002,-0.01,-0.017,
 -0.025,-0.005,0.02,0.035,0.005,0.003]
act_tr_z = [0.0,0.0,0.001,0.0,0.0,0.001,0.0,0.0,0.001,0.0,
 0.0,-0.001,0.0,0.001,0.0,0.0,0.001,0.002,0.003,0.004,
 0.004,0.002,0.0,-0.003,-0.004,-0.002,0.0,0.001,0.0,0.001,
 0.002,0.001,0.0,0.0,0.001,0.002,0.001,0.0,0.0,-0.001,
 0.0,0.001,0.0,0.0,-0.001,0.0,0.001,0.0,-0.002,-0.004,
 -0.006,-0.009,-0.012,-0.015,-0.015,-0.014,-0.015,-0.02,-0.028,-0.034,
 -0.03,-0.02,-0.01,-0.005,0.0,0.002,0.004,0.005,0.005,0.005,
 0.008,0.012,0.016,0.019,0.018,0.012,0.005,0.008,0.013,0.015,
 0.01,0.002,-0.005,-0.01,-0.015,-0.01,-0.006,-0.004,-0.002,-0.002,
 -0.003,-0.004,-0.003,-0.002,-0.001,-0.001,0.0,-0.001,-0.002,-0.001,
 0.0,-0.001,0.0,0.001,0.0,0.0]
pred_tr_z = [0.0,0.001,0.0,0.0,0.001,0.0,0.001,0.0,0.0,0.001,
 0.0,0.0,-0.001,0.001,0.0,0.001,0.0,0.001,0.002,0.003,
 0.004,0.002,-0.001,-0.003,-0.004,-0.001,0.0,0.001,0.001,0.0,
 0.002,0.001,0.0,0.001,0.0,0.002,0.001,0.0,-0.001,-0.001,
 0.001,0.0,0.0,-0.001,-0.001,0.001,0.0,0.0,-0.003,-0.005,
 -0.007,-0.01,-0.013,-0.016,-0.014,-0.015,-0.016,-0.021,-0.03,-0.036,
 -0.028,-0.018,-0.009,-0.004,0.001,0.003,0.004,0.006,0.004,0.006,
 0.009,0.013,0.017,0.018,0.017,0.011,0.006,0.009,0.014,0.014,
 0.009,0.001,-0.006,-0.011,-0.014,-0.009,-0.005,-0.003,-0.002,-0.001,
 -0.003,-0.003,-0.002,-0.002,0.0,0.0,0.001,-0.001,-0.001,0.0,
 0.001,0.0,0.001,0.0,0.001,-0.001]

# ---- Prediction error (% peak actual), 0.05 s steps
err_ll_x = [1,0,1,2,1,3,1,2,0,1,2,3,1,2,1,2,3,1,2,1,
 2,3,1,2,4,2,1,3,2,4,3,2,5,3,6,4,2,3,5,2,
 3,1,4,2,5,3,2,6,3,1,4,7,2,5,3,1,6,4,2,8,
 5,2,4,6,1,3,7,2,5,1,4,6,3,8,2,5,3,10,4,2,
 6,3,8,2,5,4,1,7,3,5,2,9,4,6,2,5,3,7,4,6,
 3,8,5,12,4,2,9,6,11,8,10,5,7,3,6,4,8,5,9,17,
 6,3,9,5,7,4,8,2,6,10,5,17,7,4,9,6,3,8,5,7,
 4,6,3,5,2,6,4,3,5,2,4,3,6,2,3,4,2,3,1,4,
 2,3,1,4,2,3,1,2,5,3,1,2,4,2,3,1,2,3,4,2,
 4,2,1,3,2,5,2,1,3,1,2,4,1,3,2,1,4,2,5,1,
 3,2,6,1,4,2,3,5,2,8,2]
err_ll_y = [1,0,1,1,0,1,1,2,1,1,0,1,1,2,1,1,2,1,1,2,
 1,2,1,3,1,1,2,1,0,1,2,1,2,3,1,2,1,1,3,2,
 1,2,1,3,2,1,4,2,1,3,2,1,4,3,2,1,3,2,5,2,
 3,1,4,2,3,5,2,1,4,3,2,8,3,1,4,2,3,1,5,2,
 4,2,3,1,5,2,3,6,2,4,1,3,5,2,4,7,3,2,5,3,
 2,4,6,3,2,5,3,1,4,2,6,3,1,2,4,3,5,2,6,4,
 3,7,4,9,5,8,13,6,4,10,18,7,9,5,11,4,8,6,3,7,
 5,3,6,2,4,3,5,2,6,3,1,4,2,5,3,2,4,1,3,2,
 1,3,2,4,1,2,3,1,2,4,2,1,3,2,1,2,1,3,1,2,
 1,2,1,3,1,2,1,1,2,4,2,1,2,1,3,2,1,2,1,3,
 1,2,4,1,3,5,2,1,3,2,1]
err_ll_z = [1,0,1,1,2,1,0,1,1,2,1,1,0,1,2,1,1,2,1,2,
 1,2,3,1,2,5,3,1,2,4,1,3,2,5,1,2,3,1,4,2,
 3,1,5,2,1,4,2,7,3,1,5,2,4,1,3,6,2,1,4,2,
 5,1,3,2,6,1,4,2,3,7,2,1,5,3,2,4,1,6,2,3,
 1,4,2,5,3,8,2,1,4,6,2,3,5,1,7,3,2,6,4,2,
 5,3,9,4,6,2,10,5,3,7,4,8,2,6,3,9,5,4,7,3,
 6,2,9,4,8,19,5,3,7,10,4,13,6,3,8,5,11,4,7,3,
 6,4,9,3,5,12,6,4,10,12,11,2,1,3,2,1,4,2,1,3,
 2,5,1,3,2,1,4,2,1,2,3,1,2,4,1,3,2,1,3,2,
 5,2,1,3,1,2,4,1,3,6,2,1,3,4,1,2,5,3,1,2,
 4,9,2,1,5,3,15,4,1,8,2]
err_rl_x = [1,3,2,4,1,2,5,3,1,4,2,5,3,1,4,2,3,5,1,2,
 4,2,1,3,2,5,1,3,4,2,1,3,2,4,1,2,5,3,2,4,
 1,3,2,5,3,1,4,2,6,3,1,5,2,4,7,3,2,5,3,1,
 4,6,2,5,3,8,10,4,2,6,11,3,5,2,7,4,1,6,3,5,
 2,7,4,3,6,1,5,3,8,2,4,6,3,5,8,2,4,3,6,4,
 9,5,3,12,7,4,13,6,9,5,11,7,4,10,8,6,12,9,5,14,
 23,8,5,11,6,9,4,12,16,7,3,10,6,8,4,9,5,3,6,7,
 8,4,2,6,3,5,2,7,4,3,5,2,8,4,3,6,2,4,5,3,
 2,5,3,1,4,2,6,3,2,4,1,5,2,3,6,2,1,4,3,2,
 5,2,3,1,4,2,6,3,1,5,2,4,3,1,5,2,4,6,3,2,
 4,1,5,3,6,10,4,2,7,3,2]
err_rl_y = [1,0,1,1,0,1,2,1,1,0,1,1,2,1,0,1,1,2,1,1,
 2,1,1,0,1,2,1,3,1,1,2,1,1,2,1,3,1,2,1,1,
 2,1,3,1,2,1,2,4,1,3,2,1,3,2,5,1,2,4,2,1,
 3,2,5,1,2,4,1,3,6,2,4,1,3,7,2,1,4,3,2,5,
 1,3,2,4,1,5,2,3,1,4,2,6,3,1,2,4,3,6,2,3,
 1,4,2,3,1,2,5,3,2,4,1,2,3,5,2,1,4,6,3,2,
 5,3,7,4,2,6,8,4,9,22,6,4,8,3,5,7,4,2,6,3,
 4,2,5,3,6,2,4,1,3,5,2,3,1,4,2,3,1,2,3,1,
 2,1,3,1,2,4,1,2,1,3,4,1,2,1,3,1,2,1,2,3,
 1,2,1,3,1,2,1,1,2,1,3,1,2,1,2,1,3,2,1,2,
 3,1,2,4,1,5,7,2,3,1,2]
err_rl_z = [0,1,1,0,1,1,2,1,0,1,1,2,1,1,0,1,2,1,1,2,
 1,2,1,3,1,2,1,3,2,1,2,3,1,2,4,2,3,1,4,2,
 3,5,4,6,5,3,6,2,1,3,2,4,1,2,5,1,3,2,1,4,
 2,5,6,3,1,4,2,6,5,3,1,2,4,1,3,2,1,3,2,1,
 2,1,3,2,1,3,1,2,4,1,2,1,3,2,4,1,5,2,3,6,
 18,9,6,8,5,9,7,4,8,3,6,5,3,7,4,8,5,3,6,4,
 8,3,5,7,2,6,4,8,3,5,6,2,7,4,3,6,2,5,4,3,
 9,4,2,6,3,5,2,4,3,2,5,1,3,2,4,1,2,3,1,2,
 3,1,2,4,2,3,5,6,4,3,5,2,1,3,2,1,2,1,3,1,
 2,1,3,2,1,2,1,3,1,2,4,1,2,3,1,2,1,3,2,1,
 3,2,4,5,1,3,2,4,1,2,3]
err_la_x = [3,1,4,2,3,1,5,2,4,3,1,2,4,1,3,5,2,1,3,2,
 4,2,1,3,5,2,3,1,2,4,1,3,2,5,3,1,4,2,5,3,
 6,2,4,1,3,5,2,4,1,3,6,2,1,4,3,2,5,1,3,2,
 4,1,3,6,2,1,4,3,2,5,1,3,2,6,4,1,3,2,5,2,
 3,6,2,4,1,3,5,2,7,3,1,4,2,6,3,8,12,5,9,14,
 7,18,11,16,6,10,4,12,8,5,13,7,3,9,18,6,11,4,8,15,
 22,9,5,14,7,3,11,6,12,4,8,20,10,5,14,3,9,6,2,7,
 10,4,2,7,3,9,5,1,10,6,3,8,2,5,1,4,7,3,10,5,
 2,6,9,4,1,3,7,2,5,9,3,1,6,2,8,4,1,3,6,2,
 4,8,2,5,1,3,7,9,4,2,6,3,11,5,2,8,3,6,1,4,
 9,3,7,2,10,13,5,3,8,11,2]
err_la_y = [0,1,0,0,1,0,1,0,0,1,1,0,1,0,1,1,0,1,0,1,
 1,0,1,1,0,1,0,1,1,0,1,2,0,1,1,2,1,0,2,1,
 1,2,1,3,1,2,1,3,2,1,3,2,4,1,2,3,1,4,2,5,
 2,1,3,2,4,1,3,5,2,1,4,2,3,6,2,4,1,5,3,2,
 4,1,3,2,5,1,3,2,4,2,1,3,5,2,1,3,6,2,4,1,
 3,1,2,4,1,2,1,3,1,2,1,3,2,1,3,2,1,4,2,3,
 2,5,4,8,6,11,9,13,7,19,12,8,10,6,9,5,7,4,3,5,
 4,2,5,3,6,4,7,5,9,4,6,3,5,2,4,1,3,2,1,3,
 3,1,2,4,1,6,2,1,3,2,1,2,4,1,2,1,3,1,2,1,
 1,2,1,3,1,1,2,1,2,1,3,1,2,1,1,2,1,3,1,2,
 1,3,1,2,4,5,1,2,3,1,2]
err_la_z = [2,1,3,1,2,0,1,2,1,3,2,1,4,2,1,3,1,2,4,3,
 5,8,3,6,2,5,4,7,9,3,6,2,5,8,4,3,7,5,6,10,
 12,6,3,8,5,2,7,4,10,6,3,8,5,2,9,4,10,6,3,7,
 5,2,8,4,6,9,3,5,2,7,4,8,3,6,1,5,9,4,2,6,
 3,7,5,2,8,4,6,1,5,3,7,2,9,4,6,3,8,5,11,7,
 14,21,13,9,18,12,16,8,15,10,6,13,9,17,7,11,5,14,8,10,
 6,12,4,9,15,7,3,11,6,18,8,4,13,6,10,3,8,5,12,4,
 7,3,9,5,2,8,4,11,6,3,13,9,14,5,2,7,4,10,3,6,
 2,8,5,3,9,4,1,6,3,7,2,5,10,4,8,3,6,2,11,4,
 7,3,5,1,4,8,2,6,3,10,4,2,7,5,1,9,3,6,2,8,
 4,10,13,3,7,2,9,5,1,8,2]
err_ra_x = [1,0,1,0,1,2,1,3,1,0,2,1,3,1,2,1,0,2,1,3,
 1,2,1,3,2,1,2,3,1,2,1,3,2,4,3,6,8,10,7,4,
 3,1,2,4,1,3,2,5,3,1,4,2,5,1,3,6,2,4,1,5,
 2,4,1,3,6,11,8,4,2,5,7,3,1,4,6,2,5,3,1,4,
 2,5,7,3,1,6,2,4,7,3,5,1,4,6,2,3,5,2,4,7,
 3,5,2,6,4,8,10,7,12,6,3,9,5,4,8,3,6,11,7,9,
 13,8,16,10,19,14,23,17,12,18,9,7,11,5,8,4,6,10,5,3,
 7,4,6,11,5,3,8,4,2,6,3,5,2,4,6,3,1,5,2,4,
 6,3,1,4,2,5,3,1,4,2,6,3,1,2,4,1,3,2,5,1,
 3,2,6,1,4,2,3,1,5,2,4,1,3,2,5,3,1,4,2,3,
 5,2,6,3,7,4,2,6,3,5,2]
err_ra_y = [0,1,0,0,1,0,1,1,0,0,1,0,1,0,1,2,0,1,0,1,
 1,0,1,0,1,1,0,1,0,1,1,0,1,1,0,1,2,1,1,2,
 1,2,1,3,1,2,1,2,3,1,2,4,1,3,2,1,4,2,3,1,
 2,4,1,3,2,5,1,3,2,4,1,3,5,2,1,4,2,3,1,4,
 2,3,1,5,2,3,1,4,2,3,1,2,4,1,3,2,5,1,3,2,
 4,1,3,2,1,3,2,4,1,2,3,1,4,2,1,3,5,2,4,3,
 2,6,3,5,4,7,3,22,5,3,6,4,8,3,5,2,6,4,7,3,
 5,2,6,4,7,3,5,2,4,3,6,2,3,1,4,2,3,1,2,3,
 1,3,2,1,2,4,1,2,3,1,2,1,3,2,1,2,1,3,1,2,
 1,2,1,1,2,1,3,1,1,2,1,1,2,1,1,2,1,2,1,3,
 2,1,3,4,2,5,1,3,2,4,1]
err_ra_z = [1,2,0,1,3,1,2,1,3,2,1,2,1,3,2,1,2,4,1,2,
 3,2,5,3,2,4,1,3,2,5,3,1,4,2,3,1,4,2,5,3,
 2,4,1,5,3,8,6,2,4,7,3,1,5,8,2,4,3,6,2,5,
 1,4,8,3,5,2,6,1,4,7,3,5,2,6,8,3,1,4,2,5,
 3,1,2,1,3,1,2,1,2,4,3,6,5,8,7,10,6,9,12,8,
 11,15,13,16,12,18,14,20,17,24,15,19,22,13,18,20,16,21,19,25,
 17,22,19,23,26,18,21,28,20,25,16,22,18,14,17,12,16,13,15,11,
 9,6,4,3,5,2,4,6,3,2,4,1,3,5,2,8,4,2,5,3,
 1,4,2,6,3,1,5,2,4,1,3,5,2,6,1,3,2,4,1,2,
 3,1,2,4,1,2,3,1,4,2,1,3,2,1,2,4,1,3,2,1,
 2,4,1,3,6,8,3,2,5,1,2]
err_tr_x = [1,0,2,1,1,3,1,2,0,1,2,1,3,1,2,1,3,2,1,4,
 2,3,1,5,2,4,3,1,4,2,5,3,2,4,1,3,6,2,4,3,
 5,2,3,6,1,4,2,5,3,7,2,4,1,6,3,5,2,8,4,3,
 6,2,4,7,3,1,5,8,2,4,6,3,1,5,2,7,3,4,1,6,
 3,5,2,8,4,1,6,3,9,2,5,4,7,3,1,6,4,2,8,5,
 3,7,2,5,9,4,6,3,8,5,2,4,7,3,6,5,8,4,6,3,
 9,5,11,7,13,8,10,6,12,19,9,7,5,8,3,6,4,7,2,5,
 3,6,2,4,5,1,3,2,5,1,4,2,3,1,2,4,1,3,2,5,
 4,2,1,3,2,1,2,1,3,1,2,1,2,1,3,4,5,3,1,2,
 5,3,1,6,4,1,2,1,3,1,2,1,4,2,1,3,2,4,2,1,
 5,3,8,4,9,6,10,3,7,2,1]
err_tr_y = [0,1,0,1,1,0,1,2,0,1,1,0,1,0,2,1,0,1,1,0,
 1,0,1,2,1,0,1,1,0,2,1,1,0,1,2,1,0,1,2,1,
 1,2,1,0,2,1,3,1,2,1,3,2,1,4,2,1,3,2,4,1,
 3,5,2,4,6,3,1,5,2,6,3,4,2,5,1,3,4,2,5,3,
 2,4,1,3,5,2,4,1,3,2,5,1,4,2,3,1,5,2,4,3,
 1,3,2,5,1,4,2,3,1,2,4,1,3,2,5,3,2,6,4,7,
 5,9,6,10,7,12,8,17,11,9,6,10,5,8,4,7,3,6,2,5,
 4,2,5,3,1,4,2,5,3,1,2,4,1,3,2,1,3,2,1,2,
 1,2,1,3,1,2,1,1,2,1,3,1,2,1,1,2,1,2,1,1,
 2,1,1,3,1,2,1,1,2,1,2,1,3,1,2,1,2,3,1,2,
 1,3,2,1,4,2,3,1,4,2,1]
err_tr_z = [1,0,1,1,0,2,1,1,0,1,2,1,0,1,1,2,1,0,1,2,
 1,2,1,3,2,1,4,2,3,5,2,1,3,2,4,1,3,2,5,3,
 9,4,2,5,1,3,6,2,4,1,5,3,7,2,4,6,1,3,5,2,
 4,6,2,8,3,5,1,7,3,2,6,4,1,5,3,7,2,4,6,1,
 3,5,2,7,4,1,6,3,5,2,4,7,1,3,6,2,5,8,4,3,
 11,4,6,3,8,5,2,7,10,4,6,3,9,5,2,7,4,8,3,6,
 5,9,3,7,12,4,16,6,3,10,5,8,2,7,12,4,6,9,3,5,
 8,4,6,10,3,13,5,7,2,9,4,11,6,3,8,2,11,5,3,7,
 4,2,6,1,5,3,8,2,4,1,6,3,2,5,1,4,7,2,3,1,
 5,2,4,1,3,6,2,1,4,2,5,1,3,2,6,1,4,2,3,5,
 2,6,4,11,3,7,2,5,8,3,1]

act_rows = [[act_ll_x, act_ll_y, act_ll_z], [act_rl_x, act_rl_y, act_rl_z],
            [act_la_x, act_la_y, act_la_z], [act_ra_x, act_ra_y, act_ra_z],
            [act_tr_x, act_tr_y, act_tr_z]]
pred_rows = [[pred_ll_x, pred_ll_y, pred_ll_z], [pred_rl_x, pred_rl_y, pred_rl_z],
             [pred_la_x, pred_la_y, pred_la_z], [pred_ra_x, pred_ra_y, pred_ra_z],
             [pred_tr_x, pred_tr_y, pred_tr_z]]
err_rows = [[err_ll_x, err_ll_y, err_ll_z], [err_rl_x, err_rl_y, err_rl_z],
            [err_la_x, err_la_y, err_la_z], [err_ra_x, err_ra_y, err_ra_z],
            [err_tr_x, err_tr_y, err_tr_z]]

top_ranges = [[-0.213, 0.236], [-0.22, 0.238], [-0.054, 0.06], [-0.053, 0.056], [-0.29, 0.305]]
top_tickvals = [[-0.2, 0, 0.2], [-0.2, 0, 0.2], [-0.05, 0, 0.05], [-0.05, 0, 0.05], [-0.2, 0, 0.2]]
top_ticktext = [["-0.2", "0", "0.2"], ["-0.2", "0", "0.2"], ["-0.05", "0", "0.05"],
                ["-0.05", "0", "0.05"], ["-0.2", "0", "0.2"]]

# ------------------------------------------------------------------ layout geometry
SW, SH = 1540.0, 1568.0   # reference-design coordinate frame


def px(x):
    return x / SW


def py(y):
    return 1 - y / SH


col_x = [(263, 605), (657, 1000), (1052, 1395)]
col_title_x = [433, 838, 1240]
row_top_y = [(92, 197), (380, 486), (676, 781), (971, 1078), (1261, 1366)]
row_err_y = [(230, 337), (519, 625), (822, 928), (1114, 1220), (1392, 1499)]
row_label_y = [211, 503, 795, 1087, 1378]
separators_y = [355, 652, 948, 1242]

FONT = "Lato"
AXC = "#4d4d4d"
TICKC = "#3f3f3f"

fig = go.Figure()
layout = dict(width=1946, height=1982, margin=dict(l=0, r=0, t=0, b=0, autoexpand=False),
              plot_bgcolor="white", paper_bgcolor="white", showlegend=False,
              font=dict(family=FONT, color="black"))
shapes = []
annotations = []


def axname(n, letter):
    return letter + ("" if n == 1 else str(n))


def note(text, x, y, size, xanchor="center", yanchor="middle", xref="paper", family=FONT,
         color="black", angle=0):
    annotations.append(dict(text=text, x=x, y=y, xref=xref, yref="paper", xanchor=xanchor,
                            yanchor=yanchor, showarrow=False, textangle=angle,
                            font=dict(size=size, family=family, color=color)))


def add_panel(n, r, c, ydom, yrange, is_err):
    xk = "xaxis" + ("" if n == 1 else str(n))
    yk = "yaxis" + ("" if n == 1 else str(n))
    bottom = is_err and r == 4
    xa = dict(domain=[px(col_x[c][0]), px(col_x[c][1])], range=[0, 11.03],
              anchor=axname(n, "y"), showline=True, linecolor=AXC, linewidth=6,
              showgrid=False, zeroline=False, fixedrange=True, automargin=False,
              showticklabels=bottom, ticks="")
    if bottom:
        xa.update(tickvals=x_ticks, ticktext=[str(v) for v in x_ticks],
                  tickfont=dict(size=24, color=TICKC, family=FONT), ticklabelstandoff=10)
    if (not is_err) and r == 4:
        xa.update(tickvals=x_ticks[1:], ticks="inside", ticklen=7, tickwidth=3, tickcolor=AXC)
    ya = dict(domain=[py(ydom[1]), py(ydom[0])], range=yrange, anchor=axname(n, "x"),
              showline=True, linecolor=AXC, linewidth=3, showgrid=False, zeroline=False,
              fixedrange=True, automargin=False, showticklabels=(c == 0),
              ticks=("inside" if c == 0 else ""))
    if c == 0:
        if is_err:
            ya.update(tickvals=err_ticks, ticktext=[str(v) for v in err_ticks])
        else:
            ya.update(tickvals=top_tickvals[r], ticktext=top_ticktext[r])
        ya.update(ticklen=5, tickwidth=3, tickcolor=AXC, ticklabelstandoff=6,
                  tickfont=dict(size=24, color=TICKC, family=FONT))
    layout[xk] = xa
    layout[yk] = ya
    for x0, x1, col in zip(phase_start, phase_end, phase_colors):
        shapes.append(dict(type="rect", xref=axname(n, "x"), yref=axname(n, "y") + " domain",
                           x0=x0, x1=x1, y0=0, y1=1, fillcolor=col, line=dict(width=0),
                           layer="below"))


n = 0
for r in range(5):
    for c in range(3):
        n += 1
        add_panel(n, r, c, row_top_y[r], top_ranges[r], False)
        a = act_rows[r][c]
        p = pred_rows[r][c]
        fig.add_trace(go.Scatter(x=t_curve[:len(a)], y=a, mode="lines", name="Actual",
                                 line=dict(color="black", width=5, shape="spline", smoothing=0.5),
                                 xaxis=axname(n, "x"), yaxis=axname(n, "y")))
        fig.add_trace(go.Scatter(x=t_curve[:len(p)], y=p, mode="lines", name="Predicted",
                                 line=dict(color="#e8141c", width=1.8, shape="spline", smoothing=0.5),
                                 xaxis=axname(n, "x"), yaxis=axname(n, "y")))
for r in range(5):
    for c in range(3):
        n += 1
        add_panel(n, r, c, row_err_y[r], [-0.4, 30.4], True)
        e = err_rows[r][c]
        fig.add_trace(go.Scatter(x=t_err[:len(e)], y=e, mode="lines", name="Prediction error",
                                 line=dict(color="black", width=2),
                                 xaxis=axname(n, "x"), yaxis=axname(n, "y")))

# title, column titles, row labels
note("Representative Trial for One Participant with Parkinson’s Disease", px(815), py(18), 36)
for c, name in enumerate(planes):
    note(name, px(col_title_x[c]), py(68), 31)
for r, name in enumerate(rows):
    note(name, px(153), py(row_label_y[r]), 42, xanchor="right")
    yt = (row_top_y[r][0] + row_top_y[r][1]) / 2 - 5
    ye = (row_err_y[r][0] + row_err_y[r][1]) / 2 - 2
    note("Normalized<br>Contribution to H", px(186), py(yt), 18, family="DejaVu Sans", angle=-90)
    note("Prediction Error<br>(% peak actual)", px(186), py(ye), 18, family="DejaVu Sans", angle=-90)
# phase labels in first panel
for name, tx in zip(phase_names, phase_label_t):
    note(name, tx, py(183), 27, xref="x")
# x-axis title
note("Time (s)", px(822), py(1554), 30, color="#333333")
# legend
for label, col, w, yy in [("Actual", "black", 3, 127), ("Predicted", "#e8141c", 2, 163)]:
    shapes.append(dict(type="line", xref="paper", yref="paper", x0=px(1389), x1=px(1437),
                       y0=py(yy), y1=py(yy), line=dict(color=col, width=w)))
    note(label, px(1445), py(yy), 27, xanchor="left")
# row separators
for yy in separators_y:
    shapes.append(dict(type="line", xref="paper", yref="paper", x0=0, x1=px(1448),
                       y0=py(yy), y1=py(yy), line=dict(color="black", width=3)))

layout["shapes"] = shapes
layout["annotations"] = annotations
fig.update_layout(**layout)
fig.write_html("out.html", config={"displayModeBar": False},
               post_script="document.body.style.margin='0px';document.body.style.overflow='hidden';")
